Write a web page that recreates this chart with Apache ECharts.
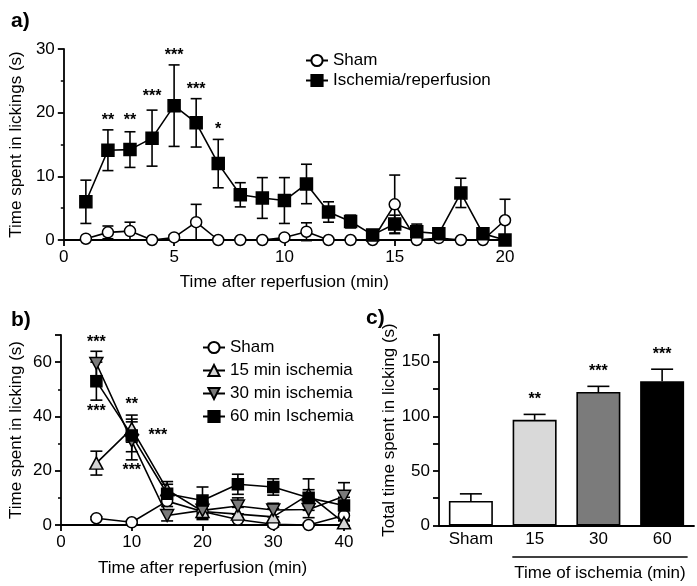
<!DOCTYPE html>
<html><head><meta charset="utf-8">
<script src="https://cdn.jsdelivr.net/npm/echarts@6/dist/echarts.min.js"></script>
<style>html,body{margin:0;padding:0;background:#fff}#c{width:697px;height:586px}</style>
</head><body><div id="c"></div>
<script>
// ---------- Panel a ----------
const minutesA = [1,2,3,4,5,6,7,8,9,10,11,12,13,14,15,16,17,18,19,20];
const shamA    = [0.2,1.2,1.4,0,0.4,2.8,0,0,0,0.4,1.3,0,0,0,5.6,0,0.3,0,0,3.1];
const shamAErr = [0.2,1.0,1.4,0,0.4,2.8,0,0,0,0.4,1.4,0,0,0,4.6,0,0.3,0,0,3.3];
const ischA    = [6.0,14.1,14.2,16.0,21.1,18.4,12.0,7.1,6.6,6.2,8.8,4.4,2.9,0.8,2.5,1.3,1.0,7.4,1.0,0];
const ischAErr = [3.4,3.2,2.8,4.4,6.4,3.8,3.8,1.9,3.2,3.6,3.1,1.6,1.0,0.3,1.4,1.2,0.5,2.3,0.5,0];
const starsAX = [2,3,4,5,6,7];
const starsAY = [19.0,19.0,22.9,29.3,23.9,17.7];
const starsAText = ['**','**','***','***','***','*'];
// ---------- Panel b ----------
const minutesB = [5,10,15,20,25,30,35,40];
const shamB     = [2.5,1.0,8.8,5.0,2.0,0.3,0,3.5];
const shamBErr  = [0.5,0.5,2.0,2.0,2.0,1.0,0.5,2.0];
const isc15B    = [22.8,35.5,13.0,5.0,4.0,3.0,11.2,0.8];
const isc15BErr = [4.4,5.0,3.0,3.0,2.5,3.0,5.8,1.0];
const isc30B    = [59.5,31.0,3.5,5.4,7.0,5.5,5.7,10.6];
const isc30BErr = [4.5,7.0,2.0,3.0,3.0,2.5,3.0,5.0];
const isc60B    = [53.0,33.0,11.5,9.0,15.0,14.0,10.0,7.2];
const isc60BErr = [7.0,6.0,3.5,5.0,3.7,3.0,3.0,3.0];
const starsBX = [5,5,10,13.7,10];
const starsBY = [67.8,42.4,45.2,33.5,20.6];
const starsBText = ['***','***','**','***','***'];
// ---------- Panel c ----------
const groupsC = ['Sham','15','30','60'];
const totalC = [22.5,96.8,122.3,132.2];
const totalCErr = [6.5,5.0,5.2,11.0];
const starsCIdx = [1,2,3];
const starsCY = [117,143,158];
const starsCText = ['**','***','***'];

const F = '"Liberation Sans", Arial, Helvetica, sans-serif';
const chart = echarts.init(document.getElementById('c'), null, {renderer:'canvas'});

function axisCommon(extra){
  return Object.assign({
    axisLine:{show:true, onZero:false, lineStyle:{color:'#000', width:1.8}},
    axisTick:{show:true, length:6, lineStyle:{color:'#000', width:1.8}},
    axisLabel:{color:'#000', fontSize:17, fontFamily:F, margin:9},
    splitLine:{show:false},
    nameTextStyle:{color:'#000', fontSize:17, fontFamily:F},
  }, extra);
}
function minor(){ return {show:true, splitNumber:2, length:3, lineStyle:{color:'#000', width:1.5}}; }

function errSeries(gi, xs, ys, es, capW, upOnly){
  return {
    type:'custom', xAxisIndex:gi, yAxisIndex:gi, z:1, silent:true, clip:false,
    data: xs.map((x,i)=>[x, ys[i], es[i]]),
    renderItem(params, api){
      const x=api.value(0), y=api.value(1), e=api.value(2);
      if(!e) return null;
      const t=api.coord([x,y+e]), b=api.coord([x, upOnly? y : y-e]);
      const st={stroke:'#000', lineWidth:1.6};
      const hw=capW/2;
      const ch=[
        {type:'line', shape:{x1:t[0],y1:t[1],x2:b[0],y2:b[1]}, style:st},
        {type:'line', shape:{x1:t[0]-hw,y1:t[1],x2:t[0]+hw,y2:t[1]}, style:st}];
      if(!upOnly) ch.push({type:'line', shape:{x1:b[0]-hw,y1:b[1],x2:b[0]+hw,y2:b[1]}, style:st});
      return {type:'group', children:ch};
    }
  };
}
function starSeries(gi, xs, ys, texts){
  return {
    type:'custom', xAxisIndex:gi, yAxisIndex:gi, z:5, silent:true, clip:false,
    data: xs.map((x,i)=>[x, ys[i]]),
    renderItem(params, api){
      const p=api.coord([api.value(0), api.value(1)]);
      return {type:'text', x:p[0], y:p[1]+2, style:{text:texts[params.dataIndex], fill:'#000',
        font:'bold 16px '+F, align:'center', verticalAlign:'middle'}};
    }
  };
}
function lineSeries(name, gi, xs, ys, symbol, size, fill){
  return {
    name, type:'line', xAxisIndex:gi, yAxisIndex:gi, z:3,
    data: xs.map((x,i)=>[x, ys[i]]),
    symbol, symbolSize:size, showAllSymbol:true,
    lineStyle:{color:'#000', width:1.6},
    itemStyle:{color:fill, borderColor:'#000', borderWidth:1.5},
    emphasis:{disabled:true}, animation:false
  };
}
const triDown = 'path://M0,0L20,0L10,18Z';
const triUp = 'path://M10,0L20,18L0,18Z';

const option = {
  animation:false,
  textStyle:{fontFamily:F},
  title:[
    {text:'a)', left:6, top:6, textStyle:{fontSize:21, fontWeight:'bold', color:'#000', fontFamily:F}},
    {text:'b)', left:6, top:305, textStyle:{fontSize:21, fontWeight:'bold', color:'#000', fontFamily:F}},
    {text:'c)', left:361, top:303, textStyle:{fontSize:21, fontWeight:'bold', color:'#000', fontFamily:F}}
  ],
  legend:[
    {orient:'vertical', left:300, top:47, itemWidth:22, itemHeight:14, itemGap:3,
     textStyle:{fontSize:17, color:'#000', fontFamily:F}, data:['Sham','Ischemia/reperfusion'], selectedMode:false},
    {orient:'vertical', left:197, top:334, itemWidth:22, itemHeight:14, itemGap:6,
     textStyle:{fontSize:17, color:'#000', fontFamily:F}, data:['Sham','15 min ischemia','30 min ischemia','60 min Ischemia'], selectedMode:false}
  ],
  grid:[
    {left:61, top:49, width:444, height:191},
    {left:61, top:335, width:283, height:190},
    {left:439, top:334.5, width:255, height:191}
  ],
  xAxis:[
    axisCommon({type:'value', gridIndex:0, min:0, max:20, interval:5, name:'Time after reperfusion (min)', nameLocation:'middle', nameGap:34}),
    axisCommon({type:'value', gridIndex:1, min:0, max:40, interval:10, name:'Time after reperfusion (min)', nameLocation:'middle', nameGap:35}),
    axisCommon({type:'category', gridIndex:2, data:groupsC, axisTick:{show:false},
      axisLabel:{color:'#000', fontSize:17, fontFamily:F, margin:5}})
  ],
  yAxis:[
    axisCommon({type:'value', gridIndex:0, min:0, max:30, interval:10, minorTick:minor(), name:'Time spent in lickings (s)', nameLocation:'middle', nameGap:36}),
    axisCommon({type:'value', gridIndex:1, min:0, max:70, interval:20, minorTick:minor(), name:'Time spent in licking (s)', nameLocation:'middle', nameGap:36,
      axisLabel:{color:'#000', fontSize:17, fontFamily:F, margin:9, formatter:v=> v%20===0 ? String(v) : ''}}),
    axisCommon({type:'value', gridIndex:2, min:0, max:175, interval:25, name:'Total time spent in licking (s)', nameLocation:'middle', nameGap:34,
      axisTick:{show:true, length:6, lineStyle:{color:'#000', width:1.8}},
      axisLabel:{color:'#000', fontSize:17, fontFamily:F, margin:9, formatter:v=> v%50===0 && v<175 ? String(v) : ''}})
  ],
  series:[
    errSeries(0, minutesA, shamA, shamAErr, 11, false),
    errSeries(0, minutesA, ischA, ischAErr, 11, false),
    lineSeries('Sham', 0, minutesA, shamA, 'circle', 11, '#fff'),
    lineSeries('Ischemia/reperfusion', 0, minutesA, ischA, 'rect', 12, '#000'),
    starSeries(0, starsAX, starsAY, starsAText),

    errSeries(1, minutesB, shamB, shamBErr, 12, false),
    errSeries(1, minutesB, isc15B, isc15BErr, 12, false),
    errSeries(1, minutesB, isc30B, isc30BErr, 12, false),
    errSeries(1, minutesB, isc60B, isc60BErr, 12, false),
    lineSeries('Sham', 1, minutesB, shamB, 'circle', 11, '#fff'),
    lineSeries('15 min ischemia', 1, minutesB, isc15B, triUp, [13,12], '#d4d4d4'),
    lineSeries('30 min ischemia', 1, minutesB, isc30B, triDown, [13,12], '#7a7a7a'),
    lineSeries('60 min Ischemia', 1, minutesB, isc60B, 'rect', 11, '#000'),
    starSeries(1, starsBX, starsBY, starsBText),

    {type:'bar', xAxisIndex:2, yAxisIndex:2, z:2, barWidth:44, silent:true,
     data: totalC.map((v,i)=>({value:v, itemStyle:{color:['#fff','#d9d9d9','#7b7b7b','#000'][i]}})),
     itemStyle:{borderColor:'#000', borderWidth:1.6}},
    errSeries(2, [0,1,2,3], totalC, totalCErr, 22, true),
    starSeries(2, starsCIdx, starsCY, starsCText)
  ]
};
chart.setOption(option);

// bracket under ischemia groups and its label
const p1 = chart.convertToPixel({xAxisIndex:2, yAxisIndex:2}, [1, 0]);
const p3 = chart.convertToPixel({xAxisIndex:2, yAxisIndex:2}, [3, 0]);
const band = (p3[0]-p1[0])/2;
const xl = p1[0]-band*0.35, xr = p3[0]+band*0.4;
chart.setOption({graphic:[
  {type:'line', shape:{x1:xl, y1:p1[1]+31.5, x2:xr, y2:p1[1]+31.5}, style:{stroke:'#000', lineWidth:1.5}},
  {type:'text', x:(xl+xr)/2, y:p1[1]+48, style:{text:'Time of ischemia (min)', font:'17px '+F, fill:'#000', align:'center', verticalAlign:'middle'}}
]});
</script>
</body></html>
